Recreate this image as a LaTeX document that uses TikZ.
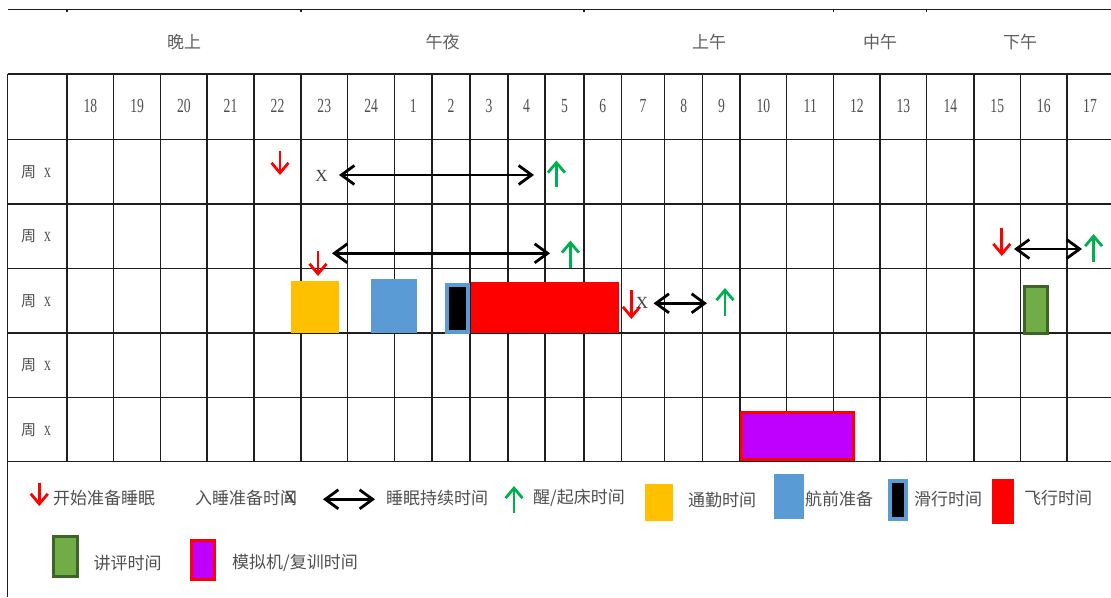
\documentclass[tikz,border=0pt]{standalone}
\usepackage{fontspec}
\setmainfont{Liberation Serif}
\newfontfamily\cjk{Noto Sans CJK SC}
\newfontfamily\numf[FakeStretch=0.68]{Liberation Serif}
\usetikzlibrary{arrows.meta}
\definecolor{gridc}{RGB}{30,30,30}
\definecolor{txtc}{RGB}{80,80,80}
\definecolor{hdrc}{RGB}{95,95,95}
\definecolor{wakeg}{RGB}{0,176,80}
\definecolor{commy}{RGB}{255,192,0}
\definecolor{prepb}{RGB}{91,155,213}
\definecolor{revg}{RGB}{112,173,71}
\definecolor{revgd}{RGB}{62,100,40}
\definecolor{simp}{RGB}{191,0,255}
\tikzset{
  gridline/.style={line width=1.3pt, gridc},
  hour/.style={font=\numf\fontsize{20pt}{22pt}\selectfont, text=txtc, inner sep=0pt},
  period/.style={font=\cjk\fontsize{17pt}{20pt}\selectfont, text=hdrc, inner sep=0pt},
  daylbl/.style={font=\fontsize{15pt}{18pt}\selectfont, text=txtc, inner sep=0pt, anchor=west},
  legtxt/.style={font=\cjk\fontsize{17pt}{20pt}\selectfont, text=txtc, inner sep=0pt, anchor=west},
  xmark/.style={font=\fontsize{17pt}{19pt}\selectfont, text=txtc!80!black, inner sep=0pt},
  sleepdown/.style={red, line width=2.8pt, -{Straight Barb[length=10pt,width=17pt]}},
  wakeup/.style={wakeg, line width=2.8pt, -{Straight Barb[length=10pt,width=17pt]}},
  dur/.style={black, line width=2.8pt, {Straight Barb[length=13pt,width=19pt]}-{Straight Barb[length=13pt,width=19pt]}},
  boxbase/.style={inner sep=0pt, outer sep=0pt},
  commute/.style={boxbase, fill=commy},
  prep/.style={boxbase, fill=prepb},
  taxi/.style={boxbase, fill=black, draw=prepb, line width=4pt},
  flight/.style={boxbase, fill=red},
  review/.style={boxbase, fill=revg, draw=revgd, line width=3pt},
  simbox/.style={boxbase, fill=simp, draw=red, line width=3pt},
}
\begin{document}
\begin{tikzpicture}[x=1pt,y=-1pt]
\useasboundingbox[fill=white] (0,0) rectangle (1111,597);

% top line with ticks
\draw[gridline] (7.5,9.5) -- (1111,9.5);
\foreach \x in {67,301,584,833.7,926.7} \draw[gridline] (\x,9.5) -- (\x,12);

% grid
\foreach \y in {74,139.3,204,268.3,333,397.7,461.7} \draw[gridline] (7.5,\y) -- (1111,\y);
\draw[gridline] (7.5,74) -- (7.5,597);
\foreach \x in {67,113.6,160.7,207,254,301,347.5,394.6,432,470,508,545,584,621.5,664.5,702.8,740,786.8,833.7,880,926.7,974,1020.5,1067}
  \draw[gridline] (\x,74) -- (\x,461.7);

% period labels
\node[period] (p1) at (184,41.7) {晚上};
\node[period] (p2) at (442.5,41.7) {午夜};
\node[period] (p3) at (709,41.7) {上午};
\node[period] (p4) at (880,41.7) {中午};
\node[period] (p5) at (1020,41.7) {下午};

% hour labels
\foreach \c/\t [count=\i] in {90.3/18,137.15/19,183.85/20,230.5/21,277.5/22,324.25/23,371.05/24,413.3/1,451/2,489/3,526.5/4,564.5/5,602.75/6,643/7,683.65/8,721.4/9,763.4/10,810.25/11,856.85/12,903.35/13,950.35/14,997.25/15,1043.75/16,1090/17}
  \node[hour] (h\i) at (\c,106) {\t};

% day labels
\foreach \y [count=\i] in {172,236.5,301,365.5,430}
  \node[daylbl] (d\i) at (21,\y) {{\cjk 周}\hspace{8pt}{\numf\fontsize{20pt}{22pt}\selectfont x}};

% row 1
\coordinate (r1a) at (280,151);
\coordinate (r1b) at (280,175);
\draw[sleepdown] (r1a) -- (r1b);
\node[xmark] (x1) at (321.4,175.7) {X};
\coordinate (d1a) at (339,175);
\coordinate (d1b) at (534,175);
\draw[dur] (d1a) -- (d1b);
\coordinate (w1a) at (556.4,187);
\coordinate (w1b) at (556.4,160.5);
\draw[wakeup] (w1a) -- (w1b);

% row 2
\coordinate (d2a) at (332,253.3);
\coordinate (d2b) at (550,253.3);
\draw[dur] (d2a) -- (d2b);
\coordinate (r2a) at (318,251);
\coordinate (r2b) at (318,276);
\draw[sleepdown] (r2a) -- (r2b);
\coordinate (w2a) at (570.4,268.3);
\coordinate (w2b) at (570.4,240.5);
\draw[wakeup] (w2a) -- (w2b);
\coordinate (r3a) at (1001.8,227.7);
\coordinate (r3b) at (1001.8,256);
\draw[sleepdown] (r3a) -- (r3b);
\coordinate (d3a) at (1014,249);
\coordinate (d3b) at (1082,249);
\draw[dur] (d3a) -- (d3b);
\coordinate (w3a) at (1093.6,262);
\coordinate (w3b) at (1093.6,234);
\draw[wakeup] (w3a) -- (w3b);

% row 3
\node[commute, minimum width=47.6pt, minimum height=52pt] (cm) at (314.8,306.7) {};
\node[prep, minimum width=45.6pt, minimum height=53.4pt] (pr) at (394.2,306) {};
\node[taxi, minimum width=21pt, minimum height=46.7pt] (tx) at (457.1,308.7) {};
\node[flight, minimum width=148.3pt, minimum height=51pt] (fl) at (544.85,307.2) {};
\coordinate (r4a) at (631.4,290);
\coordinate (r4b) at (631.4,319);
\draw[sleepdown] (r4a) -- (r4b);
\node[xmark] (x2) at (642,303) {X};
\coordinate (d4a) at (653.6,303.3);
\coordinate (d4b) at (707,303.3);
\draw[dur] (d4a) -- (d4b);
\coordinate (w4a) at (725,315.5);
\coordinate (w4b) at (725,288);
\draw[wakeup] (w4a) -- (w4b);
\node[review, minimum width=23.3pt, minimum height=47pt] (rv) at (1036.2,310) {};

% row 5
\node[simbox, minimum width=112pt, minimum height=47pt] (sm) at (797.9,435.7) {};

% legend row 1
\coordinate (lra) at (39.3,483);
\coordinate (lrb) at (39.3,506);
\draw[sleepdown] (lra) -- (lrb);
\node[legtxt] (l1) at (53,498.3) {开始准备睡眠};
\node[legtxt] (l2) at (195,498.3) {入睡准备时间};
\node[xmark] (lx) at (290,498.3) {X};
\coordinate (lda) at (323,499.3);
\coordinate (ldb) at (375,499.3);
\draw[dur] (lda) -- (ldb);
\node[legtxt] (l3) at (386,498.3) {睡眠持续时间};
\coordinate (lwa) at (514,513);
\coordinate (lwb) at (514,486);
\draw[wakeup] (lwa) -- (lwb);
\node[legtxt] (l4) at (533,498.3) {醒/起床时间};
\node[commute, minimum width=27.9pt, minimum height=36.7pt] (lc) at (658.55,502.65) {};
\node[legtxt] (l5) at (688,500) {通勤时间};
\node[prep, minimum width=29.6pt, minimum height=45pt] (lp) at (788.8,496.8) {};
\node[legtxt] (l6) at (805,499.3) {航前准备};
\node[taxi, minimum width=16pt, minimum height=38pt] (lt) at (898,500) {};
\node[legtxt] (l7) at (914,499.3) {滑行时间};
\node[flight, minimum width=22pt, minimum height=45pt] (lf) at (1003,501.5) {};
\node[legtxt] (l8) at (1024,498.3) {飞行时间};

% legend row 2
\node[review, minimum width=23.8pt, minimum height=40pt] (lrv) at (65.2,556.5) {};
\node[legtxt] (l9) at (93.5,563.3) {讲评时间};
\node[simbox, minimum width=23pt, minimum height=39pt] (lsm) at (203,560) {};
\node[legtxt] (l10) at (232,563.3) {模拟机/复训时间};
\end{tikzpicture}
\end{document}
